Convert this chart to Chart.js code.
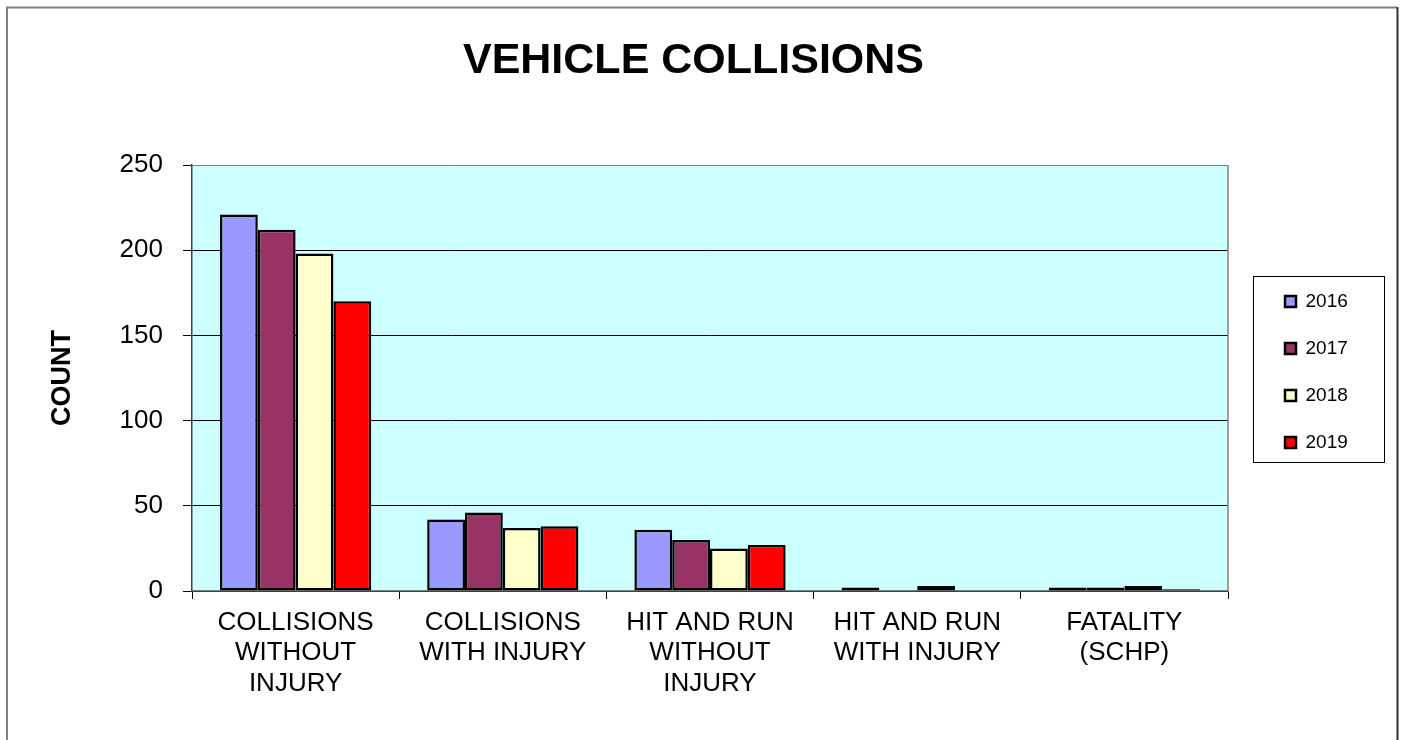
<!DOCTYPE html>
<html>
<head>
<meta charset="utf-8">
<title>Vehicle Collisions</title>
<script src="https://cdn.jsdelivr.net/npm/chart.js@4.4.1/dist/chart.umd.min.js"></script>
<style>
  html, body { margin: 0; padding: 0; background: #fff; }
  canvas { display: block; }
</style>
</head>
<body>
<canvas id="collisionsChart" width="1401" height="740"></canvas>
<script>
// values
const categories = [
    ['COLLISIONS', 'WITHOUT', 'INJURY'],
    ['COLLISIONS', 'WITH INJURY'],
    ['HIT AND RUN', 'WITHOUT', 'INJURY'],
    ['HIT AND RUN', 'WITH INJURY'],
    ['FATALITY', '(SCHP)']
];
const years = ['2016', '2017', '2018', '2019'];
const count2016 = [221, 42, 36, 2, 2];
const count2017 = [212, 46, 30, 0, 2];
const count2018 = [198, 37, 25, 3, 3];
const count2019 = [170, 38, 27, 0, 1];
const yTicks = [0, 50, 100, 150, 200, 250];

const colors = ['#9999FF', '#993366', '#FFFFCC', '#FF0000'];
const series = [count2016, count2017, count2018, count2019];
const FONT = "'Liberation Sans', Arial, sans-serif";

// plot background, frame and legend box
const decor = {
    id: 'decor',
    beforeInit(chart) {
        const legend = chart.legend;
        const fit = legend.fit;
        legend.fit = function () {
            fit.call(this);
            this.width = 159;
        };
    },
    afterLayout(chart) {
        chart.legend.left = chart.chartArea.right + 29;
        chart.legend.top += 4;
    },
    beforeDraw(chart) {
        const { ctx, chartArea: a } = chart;
        ctx.save();
        ctx.fillStyle = '#CCFFFF';
        ctx.fillRect(a.left, a.top, a.right - a.left, a.bottom - a.top);
        ctx.restore();
    },
    afterDraw(chart) {
        const { ctx, chartArea: a } = chart;
        ctx.save();
        // plot area right edge
        ctx.strokeStyle = '#808080';
        ctx.lineWidth = 1.5;
        ctx.beginPath();
        ctx.moveTo(a.right, a.top);
        ctx.lineTo(a.right, a.bottom);
        ctx.stroke();

        // legend frame
        const hb = chart.legend.legendHitBoxes;
        if (hb && hb.length) {
            const last = hb[hb.length - 1];
            const top = hb[0].top - 16;
            const bottom = last.top + last.height + 10;
            const left = a.right + 25;
            ctx.strokeStyle = '#000';
            ctx.lineWidth = 1;
            ctx.strokeRect(left + 0.5, top + 0.5, 131, bottom - top);
        }

        // outer frame
        ctx.strokeStyle = '#808080';
        ctx.lineWidth = 2;
        ctx.beginPath();
        ctx.moveTo(7, 745);
        ctx.lineTo(7, 7.5);
        ctx.lineTo(1397, 7.5);
        ctx.stroke();
        ctx.strokeStyle = '#303030';
        ctx.beginPath();
        ctx.moveTo(1397.5, 7);
        ctx.lineTo(1397.5, 745);
        ctx.stroke();
        ctx.restore();
    }
};

new Chart(document.getElementById('collisionsChart'), {
    type: 'bar',
    data: {
        labels: categories,
        datasets: years.map((y, i) => ({
            label: y,
            data: series[i],
            backgroundColor: colors[i],
            borderColor: '#000',
            borderWidth: 2.5,
            borderSkipped: false,
            barPercentage: 1,
            categoryPercentage: 0.73
        }))
    },
    options: {
        responsive: false,
        animation: false,
        layout: { padding: { left: 0, right: 14, top: 0, bottom: 0 } },
        plugins: {
            title: {
                display: true,
                text: 'VEHICLE COLLISIONS',
                color: '#000',
                font: { family: FONT, size: 43, weight: 'bold', lineHeight: 1.2 },
                padding: { top: 35, bottom: 78.4 }
            },
            legend: {
                position: 'right',
                labels: {
                    color: '#000',
                    font: { family: FONT, size: 19 },
                    boxWidth: 11,
                    boxHeight: 11,
                    padding: 28
                }
            },
            tooltip: { enabled: false }
        },
        scales: {
            x: {
                afterFit(scale) { scale.height = 149; },
                grid: {
                    offset: true,
                    drawOnChartArea: false,
                    tickLength: 8,
                    color: '#000'
                },
                border: { color: '#808080', width: 1.5 },
                ticks: {
                    color: '#000',
                    padding: 8,
                    maxRotation: 0,
                    autoSkip: false,
                    font: { family: FONT, size: 26, lineHeight: 1.18 }
                }
            },
            y: {
                min: 0,
                max: 250,
                afterFit(scale) { scale.width = 192; },
                afterBuildTicks(scale) { scale.ticks = yTicks.map(v => ({ value: v })); },
                grid: {
                    tickLength: 9,
                    color: ctx => (ctx.tick && ctx.tick.value === 250 ? '#808080' : '#000'),
                    tickColor: '#000'
                },
                border: { color: '#404040', width: 1.5 },
                ticks: {
                    color: '#000',
                    padding: 20,
                    font: { family: FONT, size: 26 }
                },
                title: {
                    display: true,
                    text: 'COUNT',
                    color: '#000',
                    font: { family: FONT, size: 27, weight: 'bold', lineHeight: 1.2 },
                    padding: { top: 46, bottom: 0 }
                }
            }
        }
    },
    plugins: [decor]
});
</script>
</body>
</html>
